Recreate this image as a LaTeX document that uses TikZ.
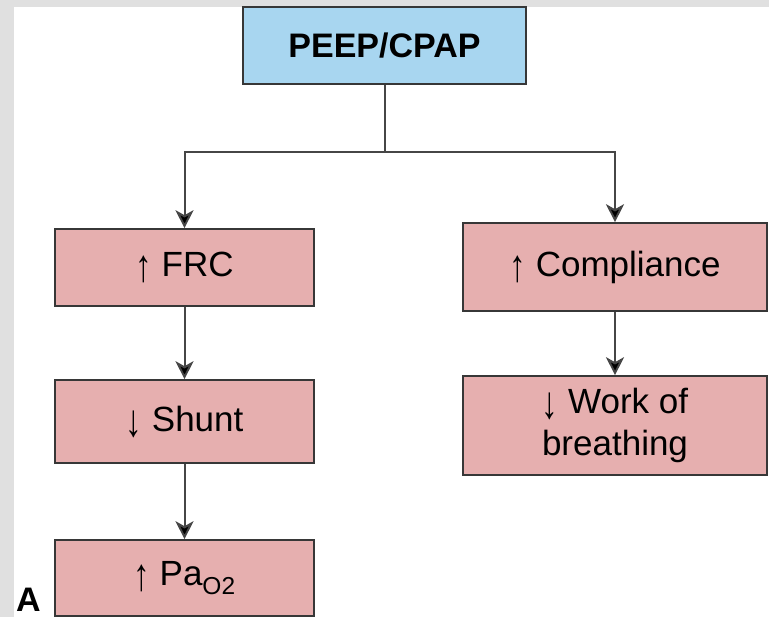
\documentclass[tikz,border=0pt]{standalone}
\usepackage{fontspec}
\usepackage{graphicx}
\setmainfont{Liberation Sans}
\usetikzlibrary{arrows.meta}
\definecolor{pinkfill}{RGB}{230,175,175}
\definecolor{bluefill}{RGB}{168,214,240}
\definecolor{boxline}{RGB}{55,55,55}
\definecolor{lineclr}{RGB}{70,70,70}
\definecolor{framegray}{RGB}{224,224,224}
\newcommand\myup{\raisebox{-5pt}{\scalebox{0.95}[1.3]{↑}}}
\newcommand\mydown{\raisebox{-5pt}{\scalebox{0.95}[1.3]{↓}}}
\tikzset{
  box/.style={draw=boxline, line width=1.6pt, fill=pinkfill, inner sep=0pt,
    align=center, font=\fontsize{35}{42}\selectfont},
  topbox/.style={box, fill=bluefill, font=\fontsize{34}{42}\selectfont\bfseries},
  conn/.style={draw=lineclr, line width=2pt},
  arr/.style={conn, -{Stealth[length=18pt,width=18pt,inset=5pt,fill=black]}}
}
\begin{document}
\begin{tikzpicture}[x=1pt,y=-1pt]
\useasboundingbox (0,0) rectangle (769,617);
\fill[framegray] (0,0) rectangle (769,617);
\fill[white] (14,7) rectangle (769,617);

\node[topbox, minimum width=283pt, minimum height=77pt] (peep) at (384.5,45.5) {PEEP/CPAP};
\node[box, minimum width=259pt, minimum height=77pt] (frc) at (184.5,267.5) {\myup{} FRC};
\node[box, minimum width=259pt, minimum height=83pt] (shunt) at (184.5,421.5) {\mydown{} Shunt};
\node[box, minimum width=259pt, minimum height=76pt] (pao) at (184.5,578) {\myup{} Pa\textsubscript{O2}};
\node[box, minimum width=304pt, minimum height=88pt] (comp) at (615,267) {\myup{} Compliance};
\node[box, minimum width=304pt, minimum height=99pt] (work) at (615,425.5) {\mydown{} Work of\\breathing};
\node[anchor=base west, inner sep=0pt, font=\fontsize{34}{42}\selectfont\bfseries] (lbl) at (16,611) {A};

\coordinate (split) at (384.5,152);
\draw[conn] (peep.south) -- (split);
\draw[arr] (split) -| (frc.north);
\draw[arr] (split) -| (comp.north);
\draw[arr] (frc.south) -- (shunt.north);
\draw[arr] (shunt.south) -- (pao.north);
\draw[arr] (comp.south) -- (work.north);
\end{tikzpicture}
\end{document}
